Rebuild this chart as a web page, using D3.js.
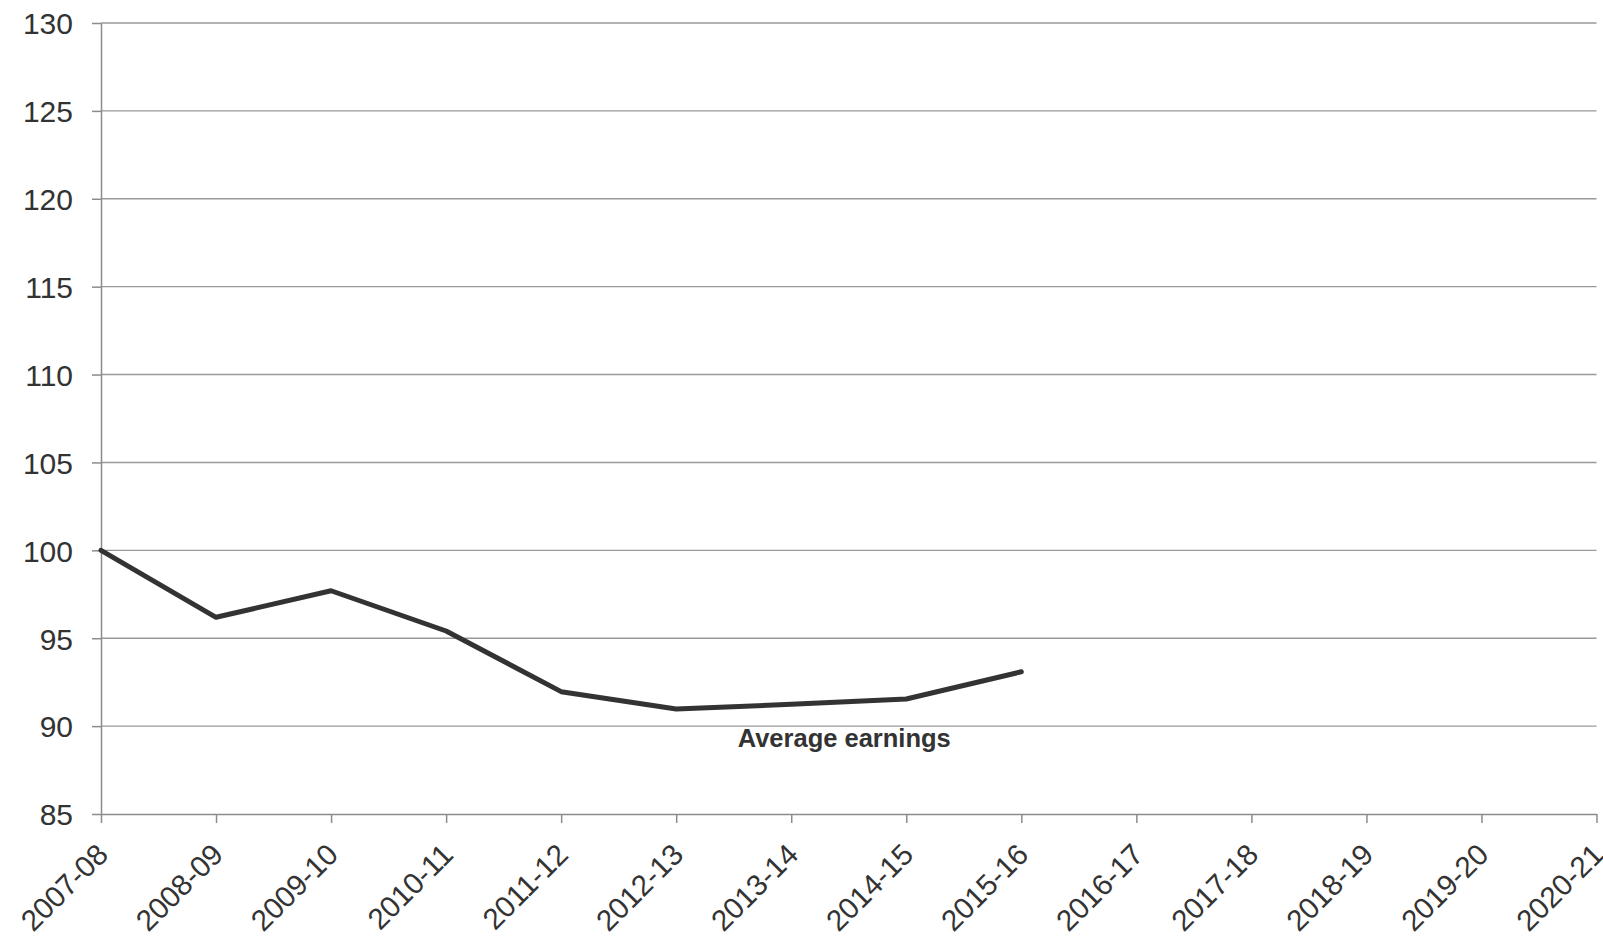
<!DOCTYPE html>
<html>
<head>
<meta charset="utf-8">
<script src="https://cdn.jsdelivr.net/npm/d3@7"></script>
<style>
  body { margin: 0; background: #fff; }
  svg { display: block; font-family: "Liberation Sans", Arial, sans-serif; }
</style>
</head>
<body>
<svg id="chart"></svg>
<script>
var years = ['2007-08', '2008-09', '2009-10', '2010-11', '2011-12', '2012-13', '2013-14',
  '2014-15', '2015-16', '2016-17', '2017-18', '2018-19', '2019-20', '2020-21'];
// only the first nine years have a value
var earnings = [100, 96.19, 97.70, 95.41, 91.96, 90.97, 91.24, 91.54, 93.09];
var yTicks = [85, 90, 95, 100, 105, 110, 115, 120, 125, 130];
var seriesLabel = 'Average earnings';

var svgWidth = 1603;
var svgHeight = 940;
var plotLeft = 101, plotRight = 1596.5, plotTop = 23, plotBottom = 814;

var svg = d3.select('#chart')
  .attr('width', svgWidth)
  .attr('height', svgHeight);

var xScale = d3.scalePoint()
  .domain(years)
  .range([plotLeft, plotRight]);
var yScale = d3.scaleLinear()
  .domain([85, 130])
  .range([plotBottom, plotTop]);

// gridlines
svg.append('g')
  .selectAll('line')
  .data(yTicks.slice(1))
  .enter()
  .append('line')
  .attr('x1', plotLeft)
  .attr('x2', plotRight)
  .attr('y1', d => yScale(d))
  .attr('y2', d => yScale(d))
  .attr('stroke', '#999')
  .attr('stroke-width', 1.4);

var yAxis = d3.axisLeft(yScale)
  .tickValues(yTicks)
  .tickSize(9)
  .tickSizeOuter(0)
  .tickPadding(19);
var yG = svg.append('g')
  .attr('transform', `translate(${plotLeft},0)`)
  .call(yAxis);

var xAxis = d3.axisBottom(xScale)
  .tickSize(9)
  .tickSizeOuter(0);
var xG = svg.append('g')
  .attr('transform', `translate(0,${plotBottom})`)
  .call(xAxis);

[yG, xG].forEach(function(g) {
  g.select('.domain').attr('stroke', '#8c8c8c').attr('stroke-width', 1.5);
  g.selectAll('.tick line').attr('stroke', '#8c8c8c').attr('stroke-width', 1.5);
  g.selectAll('text').attr('fill', '#333').style('font-size', '30px')
    .style('font-family', '"Liberation Sans", Arial, sans-serif');
});
yG.selectAll('text').attr('dy', '0.36em');
xG.selectAll('text')
  .attr('x', 0)
  .attr('y', 0)
  .attr('dy', '0.35em')
  .attr('text-anchor', 'end')
  .attr('transform', 'translate(1,35) rotate(-45)')
  .style('font-size', '29.5px');

var line = d3.line()
  .x((d, i) => xScale(years[i]))
  .y(d => yScale(d));

svg.append('path')
  .datum(earnings)
  .attr('d', line)
  .attr('fill', 'none')
  .attr('stroke', '#333')
  .attr('stroke-width', 5)
  .attr('stroke-linejoin', 'round')
  .attr('stroke-linecap', 'round');

svg.append('text')
  .attr('x', (xScale('2012-13') + xScale('2014-15')) / 2 + 53)
  .attr('y', 747)
  .attr('text-anchor', 'middle')
  .attr('fill', '#333')
  .style('font-size', '25.5px')
  .style('font-weight', 'bold')
  .text(seriesLabel);
</script>
</body>
</html>
